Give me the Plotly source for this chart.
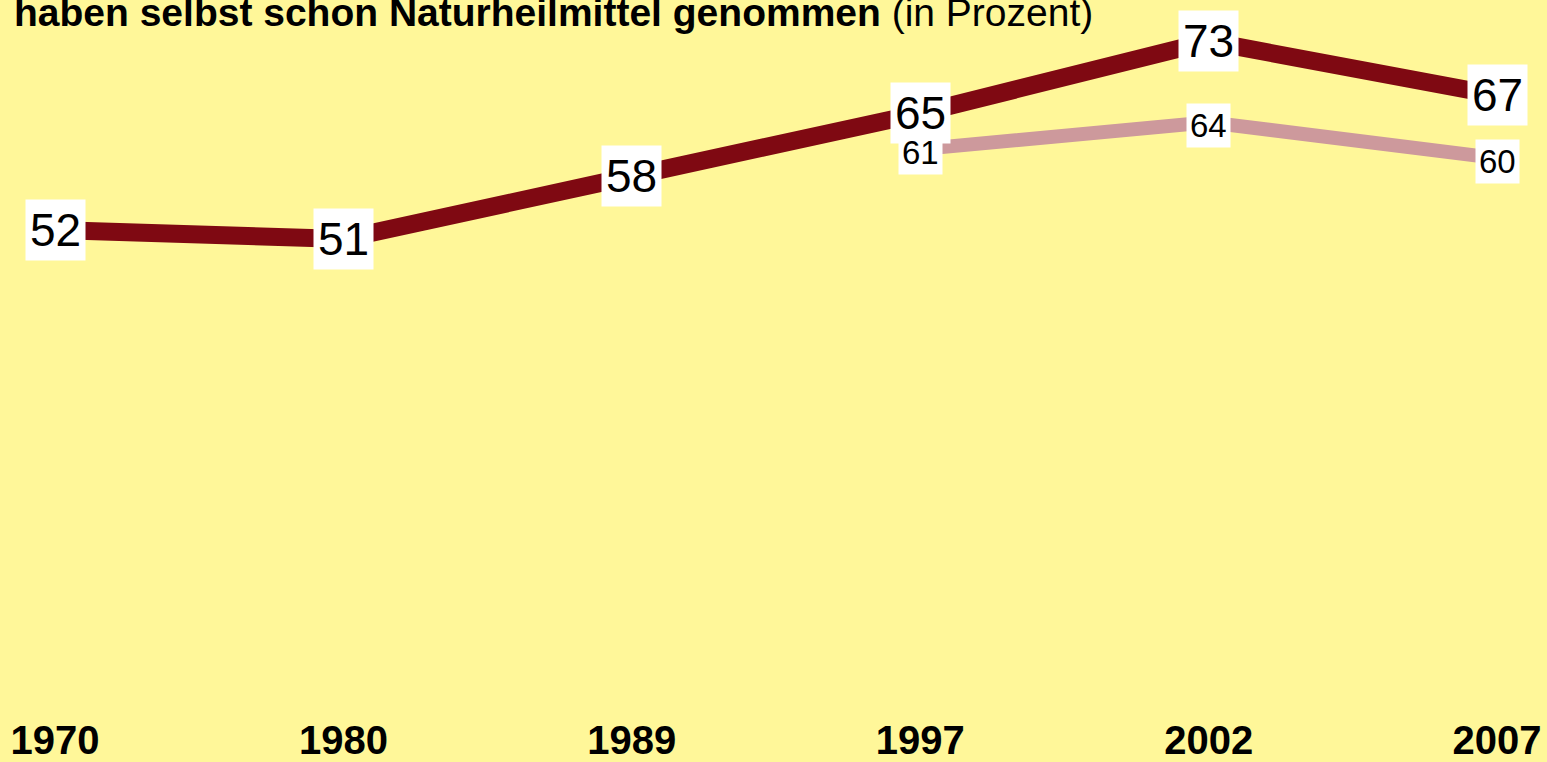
import plotly.graph_objects as go

years = ["1970", "1980", "1989", "1997", "2002", "2007"]
values_main = [52, 51, 58, 65, 73, 67]
years_second = ["1997", "2002", "2007"]
values_second = [61, 64, 60]
title_bold = "haben selbst schon Naturheilmittel genommen"
title_rest = "(in Prozent)"

BG = "#FFF799"
DARK = "#7F0912"
PINK = "#CD999C"
FONT = "Liberation Sans, Arial, sans-serif"

x_main = [years.index(y) for y in years]
x_second = [years.index(y) for y in years_second]

fig = go.Figure()
fig.add_trace(go.Scatter(x=x_second, y=values_second, mode="lines",
                         line=dict(color=PINK, width=14), hoverinfo="skip"))
fig.add_trace(go.Scatter(x=x_main, y=values_main, mode="lines",
                         line=dict(color=DARK, width=18), hoverinfo="skip"))

annotations = []
for x, v in zip(x_main, values_main):
    annotations.append(dict(x=x, y=v, xref="x", yref="y", text=str(v), showarrow=False,
                            font=dict(family=FONT, size=46, color="black"),
                            bgcolor="white", borderpad=4))
for x, v in zip(x_second, values_second):
    annotations.append(dict(x=x, y=v, xref="x", yref="y", text=str(v), showarrow=False,
                            font=dict(family=FONT, size=33, color="black"),
                            bgcolor="white", borderpad=3, yshift=-3))
annotations.append(dict(x=0, y=1, xref="paper", yref="paper", xanchor="left", yanchor="top",
                        xshift=12, yshift=11, showarrow=False,
                        text=f"<b>{title_bold}</b> {title_rest}",
                        font=dict(family=FONT, size=39, color="black")))

fig.update_layout(
    width=1547, height=762,
    margin=dict(l=0, r=0, t=0, b=40),
    paper_bgcolor=BG, plot_bgcolor=BG,
    showlegend=False,
    annotations=annotations,
    xaxis=dict(range=[-0.1907, 5.173], tickvals=x_main, ticktext=years,
               showgrid=False, zeroline=False, showline=False, ticks="",
               ticklabelstandoff=4,
               tickfont=dict(family=FONT, size=40, color="black", weight="bold")),
    yaxis=dict(range=[-1.31, 77.6], showgrid=False, zeroline=False, showline=False,
               showticklabels=False, ticks=""),
)

fig.write_html("out.html", config={"displayModeBar": False},
               post_script="document.body.style.margin='0';document.body.style.overflow='hidden';")
